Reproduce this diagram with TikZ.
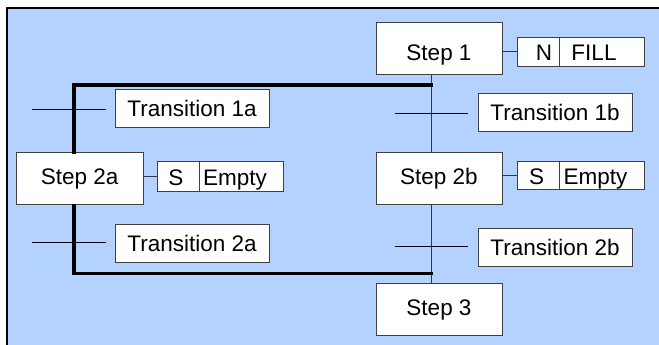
\documentclass[tikz,border=0pt]{standalone}
\usepackage{fontspec}
\setmainfont{Liberation Sans}
\definecolor{bg}{HTML}{B4D2FF}
\definecolor{boxline}{HTML}{404040}
\definecolor{wire}{HTML}{303848}
\begin{document}
\begin{tikzpicture}[x=1pt,y=-1pt,
  box/.style={draw=boxline,line width=0.9pt,fill=white,inner sep=0pt,text depth=0pt,font=\fontsize{22.5}{24}\selectfont},
  stepbox/.style={box,minimum width=126pt,minimum height=52pt,text height=11pt},
  transbox/.style={box,minimum width=154pt,minimum height=38pt,text height=16pt},
  thin/.style={draw=wire,line width=0.9pt},
  thick/.style={draw=black,line width=3.5pt,line cap=rect},
  lbl/.style={font=\fontsize{22.5}{24}\selectfont,inner sep=0pt,anchor=base}]
\useasboundingbox (0,0) rectangle (659,345);
\fill[white] (0,0) rectangle (659,345);
\fill[bg] (7,8) rectangle (659,345);
\draw[black,line width=2pt] (7,345) -- (7,8) -- (659,8);
% steps
\node[stepbox,text height=25.4pt] (s1) at (439,48.3) {Step 1};
\node[stepbox,minimum width=127pt] (s2a) at (79.7,178.8) {Step 2a};
\node[stepbox] (s2b) at (439,178.8) {Step 2b};
\node[stepbox] (s3) at (439,309.8) {Step 3};
% transitions
\node[transbox] (t1a) at (192,108.5) {Transition 1a};
\node[transbox] (t1b) at (555,112.5) {Transition 1b};
\node[transbox] (t2a) at (192,243.2) {Transition 2a};
\node[transbox] (t2b) at (555,247.5) {Transition 2b};
% action boxes
\node[box,minimum width=127pt,minimum height=29pt] (a1) at (581,51.7) {};
\node[lbl] (a1q) at (544,61) {N};
\node[lbl] (a1t) at (594,61) {FILL};
\draw[boxline,line width=0.9pt] (559.7,37.2) -- (559.7,66.2);
\node[box,minimum width=126pt,minimum height=30pt] (a2a) at (220.3,176.3) {};
\node[lbl] (a2aq) at (176,185) {S};
\node[lbl] (a2at) at (235,185) {Empty};
\draw[boxline,line width=0.9pt] (199,161.3) -- (199,191.3);
\node[box,minimum width=127pt,minimum height=28pt] (a2b) at (581,175.3) {};
\node[lbl] (a2bq) at (536.7,184.3) {S};
\node[lbl] (a2bt) at (595.5,184.3) {Empty};
\draw[boxline,line width=0.9pt] (559.7,161.3) -- (559.7,189.3);
% action connectors
\draw[thin] (s1.east |- a1.west) -- (a1.west);
\draw[thin] (s2a.east |- a2a.west) -- (a2a.west);
\draw[thin] (s2b.east |- a2b.west) -- (a2b.west);
% coordinates
\coordinate (tl) at (74,85);
\coordinate (tr) at (431.7,85);
\coordinate (bl) at (74,273.7);
\coordinate (br) at (431.7,273.7);
% right branch wire
\draw[thin] (s1.south -| tr) -- (s2b.north -| tr);
\draw[thin] (s2b.south -| tr) -- (s3.north -| tr);
% left branch thick
\draw[thick] (tr) -- (tl) -- (s2a.north -| tl);
\draw[thick] (s2a.south -| bl) -- (bl) -- (br);
% transition bars
\coordinate (b1al) at (32.3,109); \coordinate (b1ar) at (105.7,109);
\coordinate (b1bl) at (395,113.3); \coordinate (b1br) at (468.3,113.3);
\coordinate (b2al) at (32.3,242); \coordinate (b2ar) at (105.7,242);
\coordinate (b2bl) at (395,246.3); \coordinate (b2br) at (468.3,246.3);
\draw[black,line width=0.8pt] (b1al) -- (b1ar);
\draw[black,line width=0.8pt] (b1bl) -- (b1br);
\draw[black,line width=0.8pt] (b2al) -- (b2ar);
\draw[black,line width=0.8pt] (b2bl) -- (b2br);
\end{tikzpicture}
\end{document}
